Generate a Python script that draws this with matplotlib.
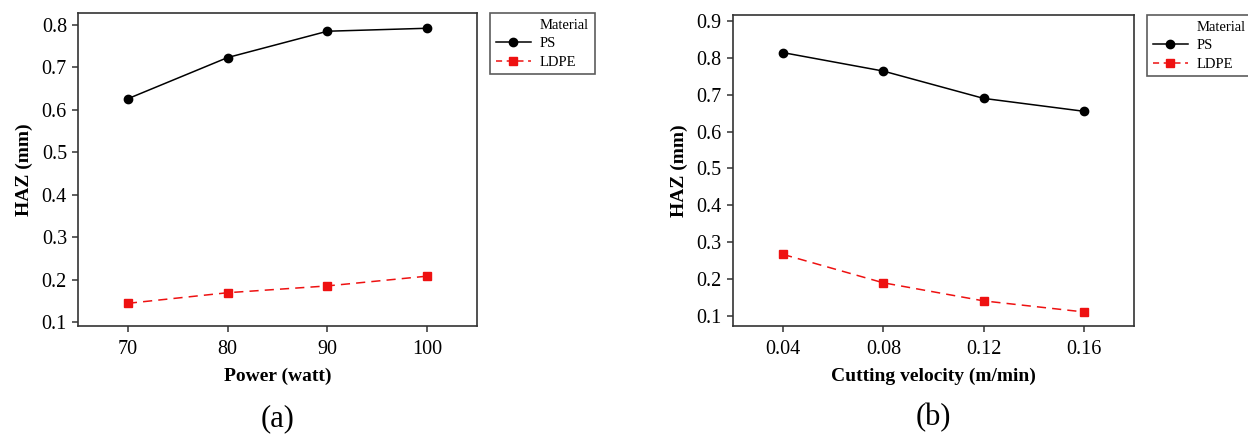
import numpy as np
import matplotlib
matplotlib.use('Agg')
import matplotlib.pyplot as plt
from matplotlib.lines import Line2D

### Data
power = [70, 80, 90, 100]
ps_power = [0.626, 0.723, 0.785, 0.792]
ldpe_power = [0.144, 0.169, 0.185, 0.208]

velocity = [0.04, 0.08, 0.12, 0.16]
ps_velocity = [0.814, 0.764, 0.690, 0.655]
ldpe_velocity = [0.267, 0.190, 0.141, 0.111]

plt.rcParams['font.family'] = ['Liberation Serif', 'DejaVu Serif']
plt.rcParams['axes.linewidth'] = 1.2
plt.rcParams['axes.edgecolor'] = '#333333'

fig = plt.figure(figsize=(12.48, 4.4), dpi=100)

def panel(rect, x, ps, ldpe, xlim, ylim, yticks, xlabel, tag, legpos):
    ax = fig.add_axes(rect)
    ax.plot(x, ps, color='black', lw=1.1, marker='o', ms=6, label='PS')
    ax.plot(x, ldpe, color='#ee1111', lw=1.1, ls=(0, (6, 4)),
            marker='s', ms=6, label='LDPE')
    ax.set_xlim(*xlim)
    ax.set_ylim(*ylim)
    ax.set_xticks(x)
    ax.set_yticks(yticks)
    ax.set_yticklabels(['%.1f' % v for v in yticks])
    if isinstance(x[0], float):
        ax.set_xticklabels(['%.2f' % v for v in x])
    ax.tick_params(direction='out', length=4, width=1.1, labelsize=14.5,
                   color='#333333', pad=4)
    ax.tick_params(axis='x', pad=6)
    ax.set_xlabel(xlabel, fontsize=14, fontweight='bold', labelpad=6)
    ax.set_ylabel('HAZ (mm)', fontsize=14, fontweight='bold', labelpad=6)
    ax.text(0.5, -0.295, tag, transform=ax.transAxes, ha='center',
            va='center', fontsize=22)
    ### Legend: "Material" as a blank-handle first row so it lines up with labels
    handles = [Line2D([], [], color='none'),
               Line2D([], [], color='black', lw=1.1, marker='o', ms=6),
               Line2D([], [], color='#ee1111', lw=1.1, ls=(0, (4, 3)),
                      marker='s', ms=6)]
    leg = fig.legend(handles, ['Material', 'PS', 'LDPE'],
                     loc='upper left', bbox_to_anchor=legpos,
                     borderaxespad=0, fontsize=10.5, frameon=True,
                     fancybox=False, handlelength=2.4, handletextpad=0.6,
                     borderpad=0.4, labelspacing=0.35)
    leg.get_frame().set_edgecolor('#333333')
    leg.get_frame().set_linewidth(1.2)
    return ax

panel([0.0625, 0.2591, 0.3197, 0.7114], power, ps_power, ldpe_power,
      (65, 105), (0.0906, 0.828), [0.1, 0.2, 0.3, 0.4, 0.5, 0.6, 0.7, 0.8],
      'Power (watt)', '(a)', (490 / 1248, 1 - 13 / 440))

panel([0.5873, 0.2591, 0.3213, 0.7068], velocity, ps_velocity, ldpe_velocity,
      (0.02, 0.18), (0.0729, 0.916),
      [0.1, 0.2, 0.3, 0.4, 0.5, 0.6, 0.7, 0.8, 0.9],
      'Cutting velocity (m/min)', '(b)', (1147 / 1248, 1 - 15 / 440))

fig.savefig('out.png', dpi=100)
